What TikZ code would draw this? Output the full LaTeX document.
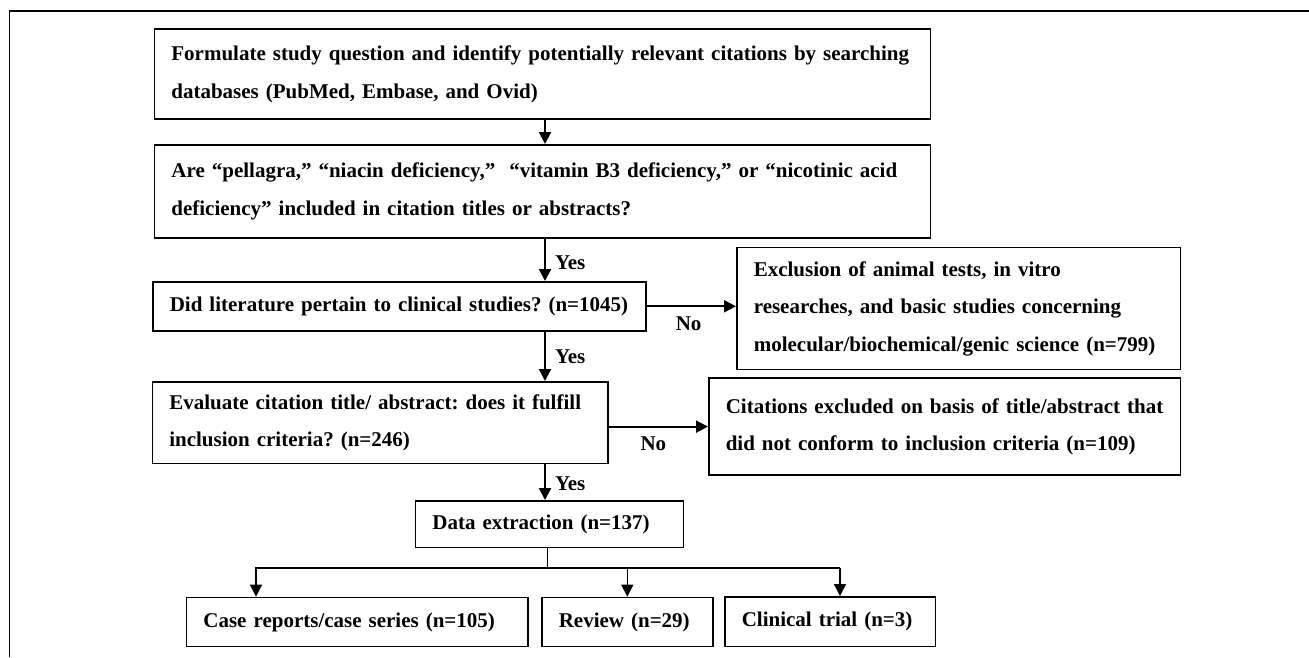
\documentclass[tikz,border=0pt]{standalone}
\usepackage{fontspec}
\setmainfont{Liberation Serif}
\usetikzlibrary{arrows.meta}
\frenchspacing

\begin{document}
\begin{tikzpicture}[
x=1pt, y=-1pt,
every node/.style={font=\fontsize{21}{37.5}\selectfont\bfseries},
box/.style={draw, line width=1.6pt, anchor=north west, align=left, inner xsep=17pt, inner ysep=0pt},
arr/.style={line width=2pt, -{Triangle[length=12pt,width=12pt]}},
split/.style={line width=1.3pt, -{Triangle[length=12pt,width=12pt]}},
lab/.style={inner sep=1pt}
]
\useasboundingbox (0,0) rectangle (1309,657);

% frame
\draw[line width=1.6pt] (9.3,657) -- (9.3,10.7) -- (1309,10.7);

% boxes
\node[box, text width=742pt, minimum height=90pt] (search) at (153.6,28.3)
  {Formulate study question and identify potentially relevant citations by searching\\
   databases (PubMed, Embase, and Ovid)};
\node[box, text width=742pt, minimum height=93pt] (terms) at (153.6,144)
  {Are “pellagra,” “niacin deficiency,” \ “vitamin B3 deficiency,” or “nicotinic acid\\
   deficiency” included in citation titles or abstracts?};
\node[box, text width=459pt, minimum height=49pt] (clinical) at (152,281)
  {Did literature pertain to clinical studies? (n=1045)};
\node[box, text width=409.6pt, minimum height=122pt] (animal) at (736,246.7)
  {Exclusion of animal tests, in vitro\\
   researches, and basic studies concerning\\
   molecular/biochemical/genic science (n=799)};
\node[box, text width=421.5pt, minimum height=81.7pt] (evaluate) at (151.5,381)
  {Evaluate citation title/ abstract: does it fulfill\\
   inclusion criteria? (n=246)};
\node[box, text width=437.6pt, minimum height=97pt] (excluded) at (708,377.3)
  {Citations excluded on basis of title/abstract that\\
   did not conform to inclusion criteria (n=109)};
\node[box, text width=234pt, minimum height=46.7pt] (extract) at (414.6,500)
  {Data extraction (n=137)};
\node[box, text width=307.4pt, minimum height=49pt] (cases) at (185.6,596.7)
  {Case reports/case series (n=105)};
\node[box, text width=137pt, minimum height=49pt] (review) at (541,596.7)
  {Review (n=29)};
\node[box, text width=176.6pt, minimum height=49.7pt] (trial) at (724,596)
  {Clinical trial (n=3)};

\coordinate (spine) at (545,0);
\coordinate (busL) at (256,568);
\coordinate (busM) at (547,568);
\coordinate (busR) at (840,568);

% connectors
\draw[arr] (search.south -| spine) -- (terms.north -| spine);
\draw[arr] (terms.south -| spine) -- node[lab, right=8pt, pos=0.57] {Yes} (clinical.north -| spine);
\draw[arr] (clinical.east) -- node[lab, below=8pt, pos=0.47] {No} (clinical.east -| animal.west);
\draw[arr] (clinical.south -| spine) -- node[lab, right=8pt, pos=0.5] {Yes} (evaluate.north -| spine);
\draw[arr] (evaluate.east |- excluded.west) -- node[lab, below=8pt, pos=0.45] {No} (excluded.west);
\draw[arr] (evaluate.south -| spine) -- node[lab, right=8pt, pos=0.54] {Yes} (extract.north -| spine);
\draw[line width=0.8pt] (extract.south -| busM) -- (busM);
\draw[split] (busR) -- (busL) -- (busL |- cases.north);
\draw[split] (review.north |- busM) -- (review.north);
\draw[split] (busR) -- (busR |- trial.north);

\end{tikzpicture}
\end{document}
